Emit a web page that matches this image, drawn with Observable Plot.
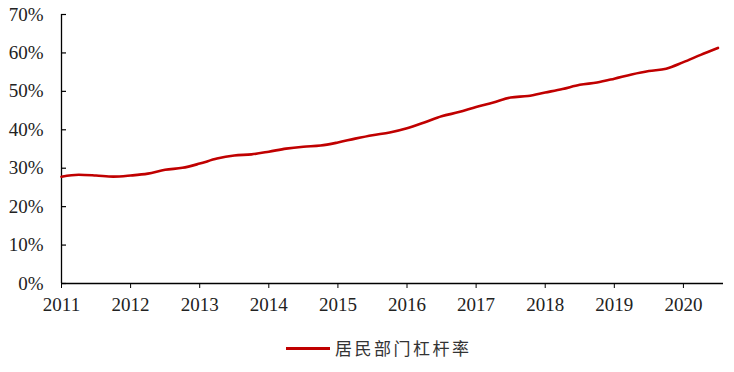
<!DOCTYPE html>
<html>
<head>
<meta charset="utf-8">
<script src="https://cdn.jsdelivr.net/npm/d3@7"></script>
<script src="https://cdn.jsdelivr.net/npm/@observablehq/plot@0.6"></script>
<style>
  html, body { margin: 0; padding: 0; background: #fff; }
  #wrap { width: 734px; height: 372px; position: relative; }
  #chart svg, #chart svg text { font-family: "Liberation Serif", "Times New Roman", serif !important; }
  #legend { position: absolute; left: 286px; top: 338px; height: 20px; display: flex; align-items: center; }
  #legend .sw { width: 44px; height: 3px; background: #c00000; margin-right: 5px; }
  #legend .lb { font-family: "Noto Sans CJK SC", sans-serif; font-size: 17px; letter-spacing: 2.5px; color: #333; line-height: 20px; }
</style>
</head>
<body>
<div id="wrap"><div id="chart"></div><div id="legend"><div class="sw"></div><div class="lb">居民部门杠杆率</div></div></div>
<script>
const seriesName = "居民部门杠杆率";
const quarters = ["2011Q1","2011Q2","2011Q3","2011Q4","2012Q1","2012Q2","2012Q3","2012Q4",
  "2013Q1","2013Q2","2013Q3","2013Q4","2014Q1","2014Q2","2014Q3","2014Q4",
  "2015Q1","2015Q2","2015Q3","2015Q4","2016Q1","2016Q2","2016Q3","2016Q4",
  "2017Q1","2017Q2","2017Q3","2017Q4","2018Q1","2018Q2","2018Q3","2018Q4",
  "2019Q1","2019Q2","2019Q3","2019Q4","2020Q1","2020Q2","2020Q3"];
const leverage = [27.8,28.3,28.1,27.8,28.1,28.6,29.6,30.1,
  31.2,32.5,33.3,33.6,34.3,35.1,35.6,35.9,
  36.7,37.7,38.6,39.3,40.4,41.9,43.5,44.6,
  45.9,47.1,48.4,48.8,49.7,50.6,51.7,52.3,
  53.3,54.4,55.3,55.9,57.6,59.5,61.3];
const yTicks = [0,10,20,30,40,50,60,70];
const xTicks = [2011,2012,2013,2014,2015,2016,2017,2018,2019,2020];

const data = quarters.map((q, i) => ({
  t: +q.slice(0,4) + (+q.slice(5) - 1) / 4,
  v: leverage[i]
}));

const chart = Plot.plot({
  width: 734,
  height: 328,
  marginLeft: 61,
  marginRight: 11,
  marginTop: 14,
  marginBottom: 45,
  style: { fontFamily: "'Liberation Serif', 'Times New Roman', serif", fontSize: "19px", color: "#222", background: "#fff" },
  x: { domain: [2011, 2020.58], ticks: xTicks },
  y: { domain: [0, 70], ticks: yTicks },
  marks: [
    Plot.axisX({ ticks: xTicks, tickFormat: d => String(d), tickSize: 5, tickPadding: 9, label: null, stroke: "#000" }),
    Plot.axisY({ ticks: yTicks, tickFormat: d => d + "%", tickSize: 0, tickPadding: 18, label: null }),
    Plot.tickY(yTicks, { y: d => d, stroke: "#000", strokeWidth: 1.2, insetRight: 657 }),
    Plot.ruleX([2011], { stroke: "#000", strokeWidth: 1.3 }),
    Plot.ruleY([0], { stroke: "#000", strokeWidth: 1.3 }),
    Plot.line(data, { x: "t", y: "v", stroke: "#c00000", strokeWidth: 2.6, curve: "monotone-x" })
  ]
});
document.getElementById("chart").appendChild(chart);
</script>
</body>
</html>
